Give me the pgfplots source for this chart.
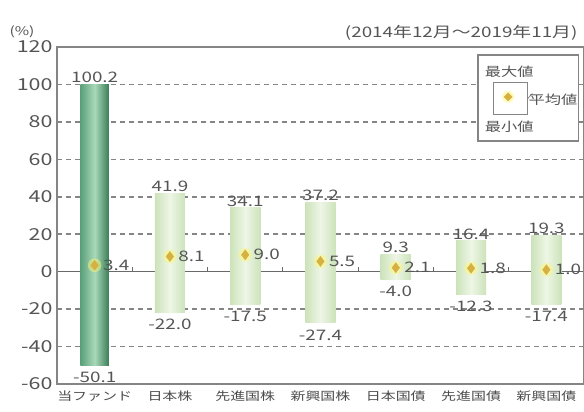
\documentclass[border=0pt]{standalone}
\usepackage{pgfplots}
\pgfplotsset{compat=1.18}
\usepackage{pgfplotstable}
\usetikzlibrary{shapes.geometric}
\usepackage{fontspec}
\setmainfont{Noto Sans CJK JP}[FakeStretch=1.3]

\definecolor{gridgray}{HTML}{858585}
\definecolor{zerogray}{HTML}{6A6A6A}
\definecolor{txt}{HTML}{555555}
\definecolor{fundL}{HTML}{5A9F7A}
\definecolor{fundM}{HTML}{A9D9B8}
\definecolor{fundR}{HTML}{3A7D58}
\definecolor{barE}{HTML}{CCE3BA}
\definecolor{barM}{HTML}{EEF6E6}
\definecolor{gold}{HTML}{D6B040}

% category, min, max, mean
\pgfplotstableread{
x  lo     hi     mean
0  -50.1  100.2  3.4
1  -22.0  41.9   8.1
2  -17.5  34.1   9.0
3  -27.4  37.2   5.5
4  -4.0   9.3    2.1
5  -12.3  16.4   1.8
6  -17.4  19.3   1.0
}\data

\begin{document}
\begin{tikzpicture}
\begin{axis}[
  scale only axis, width=527pt, height=337pt,
  xmin=-0.5, xmax=6.5, ymin=-60, ymax=120,
  clip=false,
  ytick={-60,-40,-20,20,40,60,80,100,120},
  extra y ticks={0},
  ymajorgrids=true,
  grid style={draw=gridgray, line width=1.5pt, dash pattern=on 5pt off 4pt},
  major tick length=0pt,
  xtick={0,...,6},
  xticklabels={当ファンド,日本株,先進国株,新興国株,日本国債,先進国債,新興国債},
  yticklabel style={font=\fontsize{16.5}{16.5}\selectfont, text=txt, xshift=-1pt},
  xticklabel style={font=\fontsize{11.5}{11.5}\selectfont, text=txt!90!black, yshift=-3pt},
  /pgf/number format/assume math mode=true,
  nodes near coords style={font=\fontsize{14.5}{14.5}\selectfont, text=txt},
]
% zero line
\draw[zerogray, line width=1.4pt] (axis cs:-0.5,0) -- (axis cs:6.5,0);
\foreach \b in {0.5,1.5,...,5.5} {
  \edef\tmp{\noexpand\draw[zerogray, line width=1.2pt] (axis cs:\b,0) -- ++(0pt,5pt);}
  \tmp
}

% floating bars (min to max)
\addplot[draw=none, left color=fundL, right color=fundR, middle color=fundM]
  coordinates {(-0.19,-50.1) (0.19,-50.1) (0.19,100.2) (-0.19,100.2)} -- cycle;
\addplot[draw=none, left color=barE, right color=barE, middle color=barM]
  coordinates {(0.80,-22.0) (1.20,-22.0) (1.20,41.9) (0.80,41.9)} -- cycle;
\addplot[draw=none, left color=barE, right color=barE, middle color=barM]
  coordinates {(1.80,-17.5) (2.20,-17.5) (2.20,34.1) (1.80,34.1)} -- cycle;
\addplot[draw=none, left color=barE, right color=barE, middle color=barM]
  coordinates {(2.80,-27.4) (3.20,-27.4) (3.20,37.2) (2.80,37.2)} -- cycle;
\addplot[draw=none, left color=barE, right color=barE, middle color=barM]
  coordinates {(3.80,-4.0) (4.20,-4.0) (4.20,9.3) (3.80,9.3)} -- cycle;
\addplot[draw=none, left color=barE, right color=barE, middle color=barM]
  coordinates {(4.80,-12.3) (5.20,-12.3) (5.20,16.4) (4.80,16.4)} -- cycle;
\addplot[draw=none, left color=barE, right color=barE, middle color=barM]
  coordinates {(5.80,-17.4) (6.20,-17.4) (6.20,19.3) (5.80,19.3)} -- cycle;

% mean markers
\addplot[only marks, mark=*, mark size=6.5pt, color=yellow!55, opacity=0.45] table[x=x, y=mean] {\data};
\addplot[only marks, mark=diamond*, mark size=5pt, color=gold] table[x=x, y=mean] {\data};

% labels
\addplot[draw=none, mark=none, nodes near coords, point meta=explicit symbolic,
  nodes near coords align={above}, every node near coord/.append style={yshift=-2pt}]
  table[x=x, y=hi, meta=hi] {\data};
\addplot[draw=none, mark=none, nodes near coords, point meta=explicit symbolic,
  nodes near coords align={below}, every node near coord/.append style={yshift=-3pt}]
  table[x=x, y=lo, meta=lo] {\data};
\addplot[draw=none, mark=none, nodes near coords, point meta=explicit symbolic,
  every node near coord/.append style={anchor=west, xshift=5pt}]
  table[x=x, y=mean, meta=mean] {\data};

% frame
\draw[gridgray, line width=1.6pt] (rel axis cs:0,0) rectangle (rel axis cs:1,1);

% legend box
\draw[gridgray, line width=1.3pt, fill=white] (rel axis cs:0.799,0.721) rectangle (rel axis cs:0.989,0.976);
\draw[gridgray, line width=1pt] (rel axis cs:0.829,0.801) rectangle (rel axis cs:0.892,0.896);
\fill[yellow!55, opacity=0.45] (rel axis cs:0.856,0.852) circle (6pt);
\node[diamond, fill=gold, inner sep=0pt, minimum size=9pt] at (rel axis cs:0.856,0.852) {};
\draw[gridgray, line width=0.8pt] (rel axis cs:0.892,0.845) -- (rel axis cs:0.902,0.862);
\node[font=\fontsize{12.5}{12.5}\selectfont, text=txt] at (rel axis cs:0.858,0.926) {最大値};
\node[font=\fontsize{12.5}{12.5}\selectfont, text=txt] at (rel axis cs:0.858,0.763) {最小値};
\node[font=\fontsize{12.5}{12.5}\selectfont, text=txt] at (rel axis cs:0.941,0.843) {平均値};
\end{axis}

\node[anchor=center, font=\fontsize{12}{12}\selectfont, text=txt] at ([xshift=-35pt,yshift=15pt]current axis.north west) {(\%)};
\node[anchor=east, font=\fontsize{14.5}{14.5}\selectfont, text=txt] at ([xshift=-3pt,yshift=14pt]current axis.north east) {(2014年12月～2019年11月)};

\pgfresetboundingbox
\path[use as bounding box] ([xshift=-57pt,yshift=-28pt]current axis.south west) rectangle ([xshift=0pt,yshift=47pt]current axis.north east);
\end{tikzpicture}
\end{document}
